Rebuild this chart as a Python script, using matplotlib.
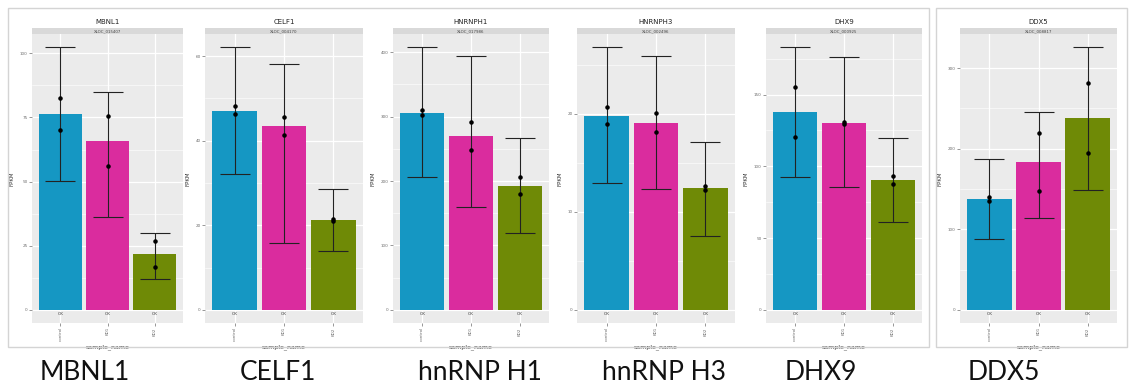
import numpy as np
import matplotlib
matplotlib.use("Agg")
import matplotlib.pyplot as plt
from matplotlib.patches import Rectangle

# genes, one facet each
genes = ["MBNL1", "CELF1", "HNRNPH1", "HNRNPH3", "DHX9", "DDX5"]
xloc_ids = ["XLOC_015407", "XLOC_004170", "XLOC_017986", "XLOC_002496", "XLOC_000925", "XLOC_008817"]
gene_names = ["MBNL1", "CELF1", "hnRNP H1", "hnRNP H3", "DHX9", "DDX5"]
samples = ["control", "KD1", "KD2"]
status = ["OK", "OK", "OK"]

# mean FPKM per sample
fpkm = [[76.5, 65.8, 21.8],
        [47.1, 43.4, 21.3],
        [306, 270, 193],
        [19.8, 19.1, 12.4],
        [137.5, 130.4, 90.5],
        [137, 184, 238]]
# confidence interval
conf_lo = [[50.2, 36.0, 12.2],
           [32.1, 15.7, 13.8],
           [206, 159, 120],
           [12.9, 12.3, 7.5],
           [92.5, 85.6, 61.0],
           [87.5, 114, 149]]
conf_hi = [[102.4, 85.0, 29.8],
           [62.1, 58.1, 28.6],
           [408, 394, 267],
           [26.8, 25.9, 17.1],
           [183, 176, 120],
           [187.5, 245, 326]]
# replicate FPKM
rep1 = [[82.7, 75.7, 26.7],
        [48.1, 45.5, 21.5],
        [311, 292, 206],
        [20.7, 20.1, 12.6],
        [155, 131, 93.3],
        [140, 220, 281]]
rep2 = [[70.2, 56.0, 16.9],
        [46.2, 41.4, 21.0],
        [303, 248, 180],
        [19.0, 18.1, 12.2],
        [120.6, 129.8, 87.7],
        [135, 147.5, 195]]
yticks = [[0, 25, 50, 75, 100],
          [0, 20, 40, 60],
          [0, 100, 200, 300, 400],
          [0, 10, 20],
          [0, 50, 100, 150],
          [0, 100, 200, 300]]

colors = ["#1597c3", "#da2c9e", "#6f8a06"]

W, H = 1130, 392
fig = plt.figure(figsize=(W / 100, H / 100), dpi=100)
fig.patch.set_facecolor("white")

# facet panel positions in pixels (left, right)
lefts = [32, 205, 393, 577, 766, 960]
rights = [183, 363, 549, 735, 922, 1117]
top, bottom = 34, 323

# boxes round the two groups of panels
for (x0, y0, x1, y1) in [(8, 8, 929, 347), (936, 8, 1127, 347)]:
    fig.patches.append(Rectangle((x0 / W, 1 - y1 / H), (x1 - x0) / W, (y1 - y0) / H,
                                 transform=fig.transFigure, fill=False,
                                 edgecolor="#d4d4d4", linewidth=1.0))

tick_col = "#6d6d6d"
x = np.arange(1, 4)

for i in range(len(genes)):
    l, r = lefts[i], rights[i]
    ax = fig.add_axes([l / W, 1 - bottom / H, (r - l) / W, (bottom - top) / H])
    ax.set_facecolor("#ebebeb")
    for s in ax.spines.values():
        s.set_visible(False)

    ymax = max(conf_hi[i])
    pad = 0.05 * ymax
    ax.set_ylim(-pad, ymax + pad)
    ax.set_xlim(0.4, 3.6)

    # grid
    yt = yticks[i]
    step = yt[1] - yt[0]
    for v in yt:
        ax.axhline(v, color="white", linewidth=0.9, zorder=0)
    for v in np.arange(yt[0] + step / 2, ymax + pad, step):
        ax.axhline(v, color="white", linewidth=0.4, zorder=0)
    for v in x:
        ax.axvline(v, color="white", linewidth=0.9, zorder=0)

    ax.bar(x, fpkm[i], width=0.9, color=colors, zorder=2)
    ax.errorbar(x, fpkm[i],
                yerr=[np.array(fpkm[i]) - np.array(conf_lo[i]),
                      np.array(conf_hi[i]) - np.array(fpkm[i])],
                fmt="none", ecolor="#222222", elinewidth=0.8, capsize=11,
                capthick=0.8, zorder=3)
    ax.scatter(x, rep1[i], s=5, color="black", zorder=4)
    ax.scatter(x, rep2[i], s=5, color="black", zorder=4)
    for xi, st in zip(x, status):
        ax.text(xi, -pad * 0.35, st, ha="center", va="center", fontsize=3, color="#333333")

    ax.set_yticks(yt)
    ax.set_yticklabels([str(v) for v in yt], fontsize=3, color=tick_col)
    ax.set_xticks(x)
    ax.set_xticklabels(samples, rotation=90, fontsize=3, color=tick_col)
    ax.tick_params(length=2, width=0.5, color=tick_col, pad=1)
    ax.set_ylabel("FPKM", fontsize=4, color="#333333", labelpad=4)
    ax.set_xlabel("sample_name", fontsize=4.5, color="#333333", labelpad=2)

    # facet strip with the locus id, gene name above
    sh = 6 / (bottom - top)
    ax.add_patch(Rectangle((0, 1), 1, sh, transform=ax.transAxes, clip_on=False,
                           facecolor="#d9d9d9", edgecolor="none"))
    ax.text(0.5, 1 + sh / 2, xloc_ids[i], transform=ax.transAxes, ha="center",
            va="center", fontsize=2.8, color="#444444")
    ax.set_title(genes[i], fontsize=5, color="#222222", pad=7)

# gene names under the panels
name_x = [85, 278, 480, 664, 821, 1004]
for nx, name in zip(name_x, gene_names):
    fig.text(nx / W, 1 - 372 / H, name, ha="center", va="center", fontsize=19,
             family=["Lato", "DejaVu Sans"], color="#111111")

fig.savefig("out.png", dpi=100)
